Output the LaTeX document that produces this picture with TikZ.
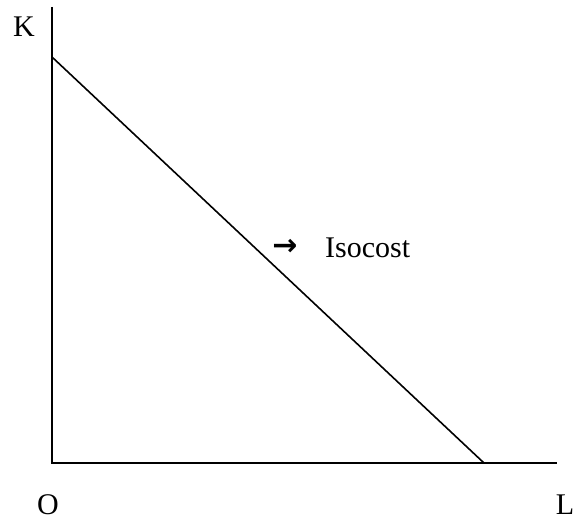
\documentclass[tikz,border=0pt]{standalone}
\usepackage{fontspec}
\setmainfont{Liberation Serif}
\newfontfamily\arrowfont{DejaVu Sans}
\begin{document}
\begin{tikzpicture}[x=1pt,y=-1pt,
  axis/.style={line width=1.6pt},
  lbl/.style={inner sep=0pt,anchor=base,font=\fontsize{30}{35}\selectfont}]
\useasboundingbox (0,0) rectangle (576,519);
\coordinate (top) at (52,7);
\coordinate (origin) at (52,463);
\coordinate (right) at (557,463);
\coordinate (kint) at (52,57);
\coordinate (lint) at (484,463);
\draw[axis] (top) -- (origin) -- (right);
\draw[axis] (kint) -- (lint);
\node[lbl] (K) at (24,37) {K};
\node[lbl] (O) at (48,514) {O};
\node[lbl] (L) at (565,514) {L};
\node[lbl,anchor=base west] (iso) at (325,257) {Isocost};
\node[lbl] (arr) at (285,255) {\arrowfont\bfseries →};
\end{tikzpicture}
\end{document}
